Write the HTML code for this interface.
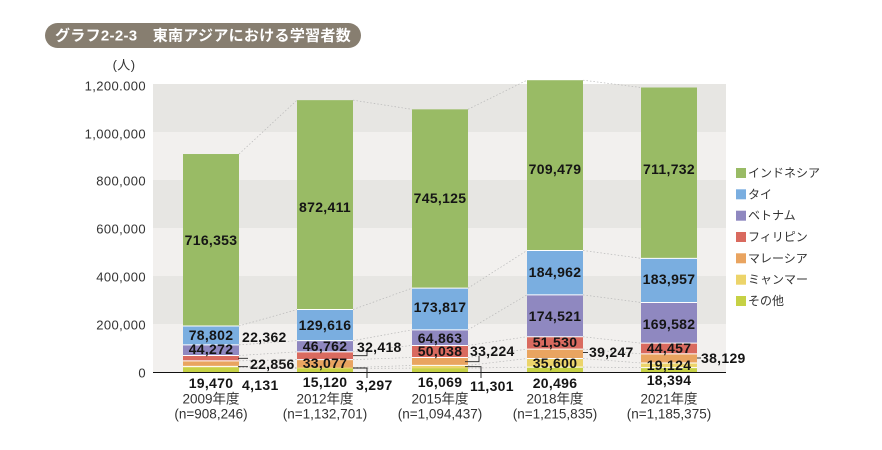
<!DOCTYPE html>
<html><head><meta charset="utf-8"><style>
html,body{margin:0;padding:0;background:#fff;}
svg{display:block;}
.n{font-family:"Liberation Sans","Noto Sans CJK JP",sans-serif;font-weight:bold;font-size:14px;fill:#151515;letter-spacing:0.3px;}
.ax{font-family:"Liberation Sans","Noto Sans CJK JP",sans-serif;font-size:13px;fill:#333;letter-spacing:0.4px;}
.xl{font-family:"Liberation Sans","Noto Sans CJK JP",sans-serif;font-size:13.5px;fill:#333;}
.lg{font-family:"Liberation Sans","Noto Sans CJK JP",sans-serif;font-size:12px;fill:#333;}
</style></head><body>
<svg width="882" height="450" viewBox="0 0 882 450" xmlns="http://www.w3.org/2000/svg">
<rect width="882" height="450" fill="#fff"/>
<!-- title -->
<rect x="45" y="23" width="316" height="25" rx="12.5" fill="#877e70"/>
<text x="55" y="36" dominant-baseline="central" font-family="'Liberation Sans','Noto Sans CJK JP',sans-serif" font-weight="bold" font-size="15" fill="#fff" letter-spacing="0.3">グラフ2-2-3　東南アジアにおける学習者数</text>
<!-- plot bands -->
<rect x="153" y="84" width="573" height="48" fill="#e7e6e3"/>
<rect x="153" y="132" width="573" height="48" fill="#f2f0ee"/>
<rect x="153" y="180" width="573" height="48" fill="#e7e6e3"/>
<rect x="153" y="228" width="573" height="48" fill="#f2f0ee"/>
<rect x="153" y="276" width="573" height="48" fill="#e7e6e3"/>
<rect x="153" y="324" width="573" height="48" fill="#f2f0ee"/>
<!-- y labels -->
<text class="ax" x="124" y="65" text-anchor="middle" dominant-baseline="central">(人)</text>
<g class="ax" text-anchor="end">
<text x="146" y="86" dominant-baseline="central">1,200.000</text>
<text x="146" y="134" dominant-baseline="central">1,000,000</text>
<text x="146" y="181" dominant-baseline="central">800,000</text>
<text x="146" y="229" dominant-baseline="central">600,000</text>
<text x="146" y="277" dominant-baseline="central">400,000</text>
<text x="146" y="325" dominant-baseline="central">200,000</text>
<text x="146" y="373" dominant-baseline="central">0</text>
</g>
<!-- connectors -->
<g stroke="#b8b8b8" stroke-width="0.7" stroke-dasharray="1.5,2" fill="none">
<path d="M239 367.33L297 368.37M239 366.34L297 367.58M239 360.85L297 359.64M239 355.48L297 351.86M239 344.86L297 340.64M239 325.95L297 309.53M239 154.02L297 100.15"/>
<path d="M353 368.37L412 368.14M353 367.58L412 365.43M353 359.64L412 357.46M353 351.86L412 345.45M353 340.64L412 329.88M353 309.53L412 288.17M353 100.15L412 109.34"/>
<path d="M468 368.14L527 367.08M468 365.43L527 358.54M468 357.46L527 349.12M468 345.45L527 336.75M468 329.88L527 294.87M468 288.17L527 250.47M468 109.34L527 80.2"/>
<path d="M583 367.08L641 367.59M583 358.54L641 363M583 349.12L641 353.84M583 336.75L641 343.18M583 294.87L641 302.48M583 250.47L641 258.33M583 80.2L641 87.51"/>
</g>
<!-- bars -->
<g>
<rect x="183" y="367.33" width="56" height="4.67" fill="#c6d145"/>
<rect x="183" y="366.34" width="56" height="0.99" fill="#ecd46a"/>
<rect x="183" y="360.85" width="56" height="5.49" fill="#e9a460"/>
<rect x="183" y="355.48" width="56" height="5.37" fill="#d96a5f"/>
<rect x="183" y="344.86" width="56" height="10.62" fill="#8f88c0"/>
<rect x="183" y="325.95" width="56" height="18.91" fill="#7aaee0"/>
<rect x="183" y="154.02" width="56" height="171.93" fill="#99bb65"/>

<rect x="297" y="368.37" width="56" height="3.63" fill="#c6d145"/>
<rect x="297" y="367.58" width="56" height="0.79" fill="#ecd46a"/>
<rect x="297" y="359.64" width="56" height="7.94" fill="#e9a460"/>
<rect x="297" y="351.86" width="56" height="7.78" fill="#d96a5f"/>
<rect x="297" y="340.64" width="56" height="11.22" fill="#8f88c0"/>
<rect x="297" y="309.53" width="56" height="31.11" fill="#7aaee0"/>
<rect x="297" y="100.15" width="56" height="209.38" fill="#99bb65"/>

<rect x="412" y="368.14" width="56" height="3.86" fill="#c6d145"/>
<rect x="412" y="365.43" width="56" height="2.71" fill="#ecd46a"/>
<rect x="412" y="357.46" width="56" height="7.97" fill="#e9a460"/>
<rect x="412" y="345.45" width="56" height="12.01" fill="#d96a5f"/>
<rect x="412" y="329.88" width="56" height="15.57" fill="#8f88c0"/>
<rect x="412" y="288.17" width="56" height="41.71" fill="#7aaee0"/>
<rect x="412" y="109.34" width="56" height="178.83" fill="#99bb65"/>

<rect x="527" y="367.08" width="56" height="4.92" fill="#c6d145"/>
<rect x="527" y="358.54" width="56" height="8.54" fill="#ecd46a"/>
<rect x="527" y="349.12" width="56" height="9.42" fill="#e9a460"/>
<rect x="527" y="336.75" width="56" height="12.37" fill="#d96a5f"/>
<rect x="527" y="294.87" width="56" height="41.88" fill="#8f88c0"/>
<rect x="527" y="250.47" width="56" height="44.40" fill="#7aaee0"/>
<rect x="527" y="80.20" width="56" height="170.27" fill="#99bb65"/>

<rect x="641" y="367.59" width="56" height="4.41" fill="#c6d145"/>
<rect x="641" y="363.00" width="56" height="4.59" fill="#ecd46a"/>
<rect x="641" y="353.84" width="56" height="9.16" fill="#e9a460"/>
<rect x="641" y="343.18" width="56" height="10.66" fill="#d96a5f"/>
<rect x="641" y="302.48" width="56" height="40.70" fill="#8f88c0"/>
<rect x="641" y="258.33" width="56" height="44.15" fill="#7aaee0"/>
<rect x="641" y="87.51" width="56" height="170.82" fill="#99bb65"/>
</g>
<!-- white separators -->
<g stroke="#fff" stroke-width="1">
<path d="M183 366.34H239M183 360.85H239M183 355.48H239M183 344.86H239M183 325.95H239"/>
<path d="M297 359.64H353M297 351.86H353M297 340.64H353M297 309.53H353"/>
<path d="M412 365.43H468M412 357.46H468M412 345.45H468M412 329.88H468M412 288.17H468"/>
<path d="M527 367.08H583M527 358.54H583M527 349.12H583M527 336.75H583M527 294.87H583M527 250.47H583"/>
<path d="M641 367.59H697M641 363H697M641 353.84H697M641 343.18H697M641 302.48H697M641 258.33H697"/>
</g>
<!-- axis -->
<line x1="153" y1="372.5" x2="726" y2="372.5" stroke="#111" stroke-width="1"/>
<!-- leaders -->
<g stroke="#222" stroke-width="0.9" fill="none">
<path d="M238 358.3H248M238 366.7H248"/>
<path d="M353 355.7H367V351M353 368H367V378"/>
<path d="M465 361.7H479V356M465 366.7H481V378"/>
<path d="M583 352.5H588"/>
<path d="M697 358H701"/>
</g>
<!-- inside labels -->
<g class="n" text-anchor="middle">
<text x="211" y="240" dominant-baseline="central">716,353</text>
<text x="211" y="335" dominant-baseline="central">78,802</text>
<text x="211" y="349" dominant-baseline="central">44,272</text>
<text x="211" y="383" dominant-baseline="central">19,470</text>

<text x="325" y="207" dominant-baseline="central">872,411</text>
<text x="325" y="325" dominant-baseline="central">129,616</text>
<text x="325" y="346" dominant-baseline="central">46,762</text>
<text x="325" y="363" dominant-baseline="central">33,077</text>
<text x="325" y="382" dominant-baseline="central">15,120</text>

<text x="440" y="198" dominant-baseline="central">745,125</text>
<text x="440" y="307" dominant-baseline="central">173,817</text>
<text x="440" y="338" dominant-baseline="central">64,863</text>
<text x="440" y="351" dominant-baseline="central">50,038</text>
<text x="440" y="382" dominant-baseline="central">16,069</text>

<text x="555" y="169" dominant-baseline="central">709,479</text>
<text x="555" y="272" dominant-baseline="central">184,962</text>
<text x="555" y="316" dominant-baseline="central">174,521</text>
<text x="555" y="342" dominant-baseline="central">51,530</text>
<text x="555" y="363" dominant-baseline="central">35,600</text>
<text x="555" y="383" dominant-baseline="central">20,496</text>

<text x="669" y="169" dominant-baseline="central">711,732</text>
<text x="669" y="279" dominant-baseline="central">183,957</text>
<text x="669" y="324" dominant-baseline="central">169,582</text>
<text x="669" y="348" dominant-baseline="central">44,457</text>
<text x="669" y="365" dominant-baseline="central">19,124</text>
<text x="669" y="380" dominant-baseline="central">18,394</text>
</g>
<!-- outside labels -->
<g class="n">
<text x="242" y="337" dominant-baseline="central">22,362</text>
<text x="250" y="364" dominant-baseline="central">22,856</text>
<text x="242" y="385" dominant-baseline="central">4,131</text>
<text x="357" y="347" dominant-baseline="central">32,418</text>
<text x="356" y="385" dominant-baseline="central">3,297</text>
<text x="470" y="351" dominant-baseline="central">33,224</text>
<text x="470" y="386" dominant-baseline="central">11,301</text>
<text x="589" y="352" dominant-baseline="central">39,247</text>
<text x="701" y="358" dominant-baseline="central">38,129</text>
</g>
<!-- x labels -->
<g class="xl" text-anchor="middle">
<text x="211" y="399" dominant-baseline="central">2009年度</text>
<text x="211" y="414" dominant-baseline="central">(n=908,246)</text>
<text x="325" y="399" dominant-baseline="central">2012年度</text>
<text x="325" y="414" dominant-baseline="central">(n=1,132,701)</text>
<text x="440" y="399" dominant-baseline="central">2015年度</text>
<text x="440" y="414" dominant-baseline="central">(n=1,094,437)</text>
<text x="555" y="399" dominant-baseline="central">2018年度</text>
<text x="555" y="414" dominant-baseline="central">(n=1,215,835)</text>
<text x="669" y="399" dominant-baseline="central">2021年度</text>
<text x="669" y="414" dominant-baseline="central">(n=1,185,375)</text>
</g>
<!-- legend -->
<g>
<rect x="736" y="168" width="10" height="10" fill="#99bb65"/>
<rect x="736" y="189.3" width="10" height="10" fill="#7aaee0"/>
<rect x="736" y="210.7" width="10" height="10" fill="#8f88c0"/>
<rect x="736" y="232" width="10" height="10" fill="#d96a5f"/>
<rect x="736" y="253.3" width="10" height="10" fill="#e9a460"/>
<rect x="736" y="274.7" width="10" height="10" fill="#ecd46a"/>
<rect x="736" y="296" width="10" height="10" fill="#c6d145"/>
</g>
<g class="lg">
<text x="748" y="173" dominant-baseline="central">インドネシア</text>
<text x="748" y="194.3" dominant-baseline="central">タイ</text>
<text x="748" y="215.7" dominant-baseline="central">ベトナム</text>
<text x="748" y="237" dominant-baseline="central">フィリピン</text>
<text x="748" y="258.3" dominant-baseline="central">マレーシア</text>
<text x="748" y="279.7" dominant-baseline="central">ミャンマー</text>
<text x="748" y="301" dominant-baseline="central">その他</text>
</g>
</svg>
</body></html>
